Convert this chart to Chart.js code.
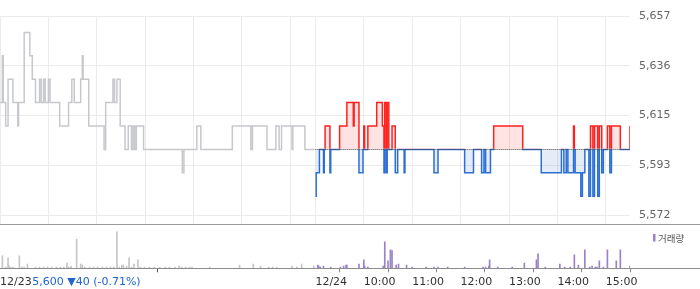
<!DOCTYPE html>
<html><head><meta charset="utf-8">
<script src="https://cdn.jsdelivr.net/npm/chart.js@4"></script>
<style>
html,body{margin:0;padding:0;background:#fff;}
#wrap{position:relative;width:700px;height:289px;overflow:hidden;}
#price{position:absolute;left:0;top:0;}
#vol{position:absolute;left:0;top:226px;}
</style></head><body>
<div id="wrap"><canvas id="price" width="700" height="226"></canvas><canvas id="vol" width="700" height="63"></canvas></div>
<script>
// ---- data (minutes after 09:00 of each session) ----
const prevMinutes = [0,3,4,7,10,16,22,23,30,37,40,44,49,51,54,56,60,62,74,85,89,92,100,102,103,110,129,131,140,142,145,149,155,159,163,165,167,169,178,226,228,244,249,288,311,313,331,342,346,349,362,363,378,390];
const prevPrices  = [5620,5640,5620,5610,5630,5620,5610,5620,5650,5640,5630,5620,5630,5620,5630,5620,5630,5620,5610,5620,5630,5620,5630,5640,5630,5610,5600,5620,5630,5620,5630,5610,5600,5610,5600,5610,5600,5610,5600,5590,5600,5610,5600,5610,5600,5610,5600,5610,5600,5610,5600,5610,5600,5600];
const todayMinutes = [0,1,5,10,11,12,18,19,30,39,47,48,54,59,60,61,65,76,83,85,86,88,89,91,95,99,102,110,111,147,152,185,196,206,209,211,217,221,257,280,305,308,311,313,320,321,322,329,331,334,339,341,344,346,350,352,355,357,362,365,367,378,390];
const todayPrices  = [5580,5590,5600,5590,5600,5610,5590,5600,5610,5620,5610,5620,5590,5600,5610,5600,5610,5620,5610,5590,5620,5590,5620,5600,5610,5590,5600,5590,5600,5590,5600,5590,5600,5590,5600,5590,5600,5610,5600,5590,5600,5590,5600,5590,5610,5600,5590,5580,5590,5600,5580,5610,5580,5610,5580,5610,5590,5600,5610,5590,5610,5600,5610];
const prevVolMinutes = [3,7,10,11,13,16,24,27,30,34,44,49,54,59,64,70,75,79,83,85,88,95,100,102,105,111,116,121,127,132,137,141,145,148,151,153,157,160,163,166,171,174,179,185,191,198,205,210,217,222,225,230,235,238,260,297,314,323,333,338,343,362,368,374,389];
const prevVolumes    = [12300,1300,10300,3000,1300,1300,12300,1300,1300,4300,1300,1300,1300,1300,1300,1300,1300,1300,5300,1300,2300,29000,4300,3300,1300,1300,1300,1300,1300,1300,1300,1300,36300,1300,3300,3300,2300,10300,1300,4300,8300,1300,1300,1300,1300,1300,1300,1300,1300,2300,1300,1300,1300,1300,1300,3300,4300,2300,1300,1300,1300,2300,1300,4300,2300];
const todayVolMinutes = [3,4,6,10,19,31,35,38,39,54,60,61,65,84,86,90,93,95,100,103,113,120,137,147,152,164,185,208,211,215,216,226,244,259,274,276,285,303,309,316,321,326,334,340,343,347,349,352,357,362,373,378,390];
const todayVolumes    = [3300,2300,1300,2300,1300,1300,2300,3300,3300,4300,8300,2300,1300,2300,26300,7300,18300,17700,3300,4300,3300,1300,1300,1300,1300,1300,1300,1300,1300,2300,8300,1300,1300,5300,8300,14300,1300,4300,1300,1300,13300,3300,18300,1300,2300,1300,1300,7300,1300,18300,7300,18300,2300];
const baselinePrice = 5600;
const yTickValues = [5572, 5593.25, 5614.5, 5635.75, 5657];
const gridMinutes = [0,60,120,180,240,300,360,391,451,511,571,631,691,751];
const axisTickMinutes = [0,391,451,511,571,631,691,751];
const axisTickLabels = ['12/23','12/24','10:00','11:00','12:00','13:00','14:00','15:00'];
const lastPrice = 5600, priceChange = -40, changePct = -0.71;
const volumeLabel = '거래량';
const TODAY_OFFSET = 391, X_MAX = 781;

const FONT = 'DejaVu Sans';
const prevPts = prevMinutes.map((m,i)=>({x:m, y:prevPrices[i]}));
const todayPts = todayMinutes.map((m,i)=>({x:m+TODAY_OFFSET, y:todayPrices[i]}));

const splitClip = {
  id:'splitClip',
  beforeDatasetDraw(chart,args){
    const ds = chart.data.datasets[args.index];
    if(!ds.clipSide) return;
    const y0 = chart.scales.y.getPixelForValue(baselinePrice);
    const a = chart.chartArea, ctx = chart.ctx;
    ctx.save(); ctx.beginPath();
    if(ds.clipSide==='above') ctx.rect(a.left-2, a.top-4, a.right-a.left+4, (y0-0.9)-(a.top-4));
    else ctx.rect(a.left-2, y0-0.9, a.right-a.left+4, a.bottom-y0+4);
    ctx.clip();
  },
  afterDatasetDraw(chart,args){
    if(chart.data.datasets[args.index].clipSide) chart.ctx.restore();
  }
};
const priceDecor = {
  id:'priceDecor',
  afterDatasetsDraw(chart){
    const ctx=chart.ctx, x=chart.scales.x, y=chart.scales.y;
    const yy = Math.round(y.getPixelForValue(baselinePrice))+0.5;
    ctx.save();
    ctx.strokeStyle='#444'; ctx.lineWidth=1; ctx.setLineDash([1,1]);
    ctx.beginPath(); ctx.moveTo(x.getPixelForValue(TODAY_OFFSET), yy); ctx.lineTo(x.getPixelForValue(X_MAX), yy); ctx.stroke();
    ctx.restore();
  },
  afterDraw(chart){
    const ctx=chart.ctx, b=Math.round(chart.chartArea.bottom)-0.5;
    ctx.save(); ctx.strokeStyle='#9a9a9a'; ctx.lineWidth=1;
    ctx.beginPath(); ctx.moveTo(0,b); ctx.lineTo(chart.width,b); ctx.stroke(); ctx.restore();
  }
};

new Chart(document.getElementById('price'), {
  type:'line',
  data:{datasets:[
    {data:prevPts, stepped:true, borderColor:'#c6c8cc', borderWidth:1.5, pointRadius:0, fill:false},
    {data:todayPts, stepped:true, borderColor:'#ff2020', borderWidth:1.5, pointRadius:0, clipSide:'above',
      fill:{target:{value:baselinePrice}, above:'rgba(255,0,0,0.11)', below:'rgba(0,0,0,0)'}},
    {data:todayPts, stepped:true, borderColor:'#2b6fd6', borderWidth:1.5, pointRadius:0, clipSide:'below',
      fill:{target:{value:baselinePrice}, above:'rgba(0,0,0,0)', below:'rgba(40,100,200,0.12)'}}
  ]},
  options:{
    responsive:false, animation:false, events:[],
    layout:{padding:{top:16,bottom:1,left:0,right:0}},
    plugins:{legend:{display:false}, tooltip:{enabled:false}},
    scales:{
      x:{type:'linear', min:0, max:X_MAX, display:true,
        afterBuildTicks:s=>{s.ticks=gridMinutes.map(v=>({value:v}));},
        afterFit:s=>{s.height=0; s.paddingLeft=0; s.paddingRight=0;},
        ticks:{display:false}, grid:{color:'#ebebeb', drawTicks:false, lineWidth:1}, border:{display:false}},
      y:{position:'right', min:5567.73, max:5657,
        afterBuildTicks:s=>{s.ticks=yTickValues.map(v=>({value:v}));},
        afterFit:s=>{s.width=70; s.paddingTop=0; s.paddingBottom=0;},
        ticks:{padding:9, color:'#666', font:{family:FONT,size:11}, callback:v=>Math.round(v).toLocaleString('en-US')},
        grid:{color:'#ebebeb', drawTicks:false}, border:{display:false}}
    }
  },
  plugins:[splitClip, priceDecor]
});

const volDecor = {
  id:'volDecor',
  afterDraw(chart){
    const ctx=chart.ctx, a=chart.chartArea;
    const b=Math.round(a.bottom)+0.5;
    ctx.save();
    ctx.strokeStyle='#8c8c8c'; ctx.lineWidth=1;
    ctx.beginPath(); ctx.moveTo(0,b); ctx.lineTo(chart.width,b); ctx.stroke();
    // info text right after the first date label, on the same line
    const items = chart.scales.x.getLabelItems();
    const it = items[0];
    ctx.font='11px "'+FONT+'"';
    const w = ctx.measureText(axisTickLabels[0]).width;
    const sign = priceChange<0 ? '▼' : '▲';
    const txt = lastPrice.toLocaleString('en-US')+' '+sign+Math.abs(priceChange)+' ('+changePct.toFixed(2)+'%)';
    ctx.fillStyle='#2065d1'; ctx.textAlign='left';
    ctx.textBaseline = it.options.textBaseline || 'middle';
    ctx.fillText(txt, it.options.translation[0] + w + 0.5, it.options.translation[1] + it.textOffset);
    // legend
    ctx.fillStyle='#9a82c9'; ctx.fillRect(653, 8, 2.5, 7.5);
    ctx.fillStyle='#555'; ctx.font='9.5px "Noto Sans CJK KR"'; ctx.textBaseline='middle';
    ctx.fillText(volumeLabel, 658, 12);
    ctx.restore();
  }
};

new Chart(document.getElementById('vol'), {
  type:'bar',
  data:{datasets:[
    {data:prevVolMinutes.map((m,i)=>({x:m,y:prevVolumes[i]})), backgroundColor:'#c6c6c6', barThickness:1, grouped:false},
    {data:todayVolMinutes.map((m,i)=>({x:m+TODAY_OFFSET,y:todayVolumes[i]})), backgroundColor:'#9a82c9', barThickness:1, grouped:false}
  ]},
  options:{
    responsive:false, animation:false, events:[],
    layout:{padding:{top:0,bottom:0,left:0,right:0}},
    plugins:{legend:{display:false}, tooltip:{enabled:false}},
    scales:{
      x:{type:'linear', min:0, max:X_MAX, offset:false,
        afterBuildTicks:s=>{s.ticks=axisTickMinutes.map(v=>({value:v}));},
        afterFit:s=>{s.height=20.7; s.paddingLeft=0; s.paddingRight=0;},
        ticks:{autoSkip:false, maxRotation:0, align:'start', padding:3.5, color:'#333', font:{family:FONT,size:11},
          callback:(v,i)=>axisTickLabels[i]},
        grid:{drawOnChartArea:false, drawTicks:true, tickLength:4,
          tickColor:c=>(c.tick && (c.tick.value===0||c.tick.value===TODAY_OFFSET))?'#555':'#888'},
        border:{display:false}},
      y:{position:'right', min:0, max:42000, display:true,
        afterFit:s=>{s.width=70; s.paddingTop=0; s.paddingBottom=0;},
        ticks:{display:false}, grid:{display:false}, border:{display:false}}
    }
  },
  plugins:[volDecor]
});
</script>
</body></html>
